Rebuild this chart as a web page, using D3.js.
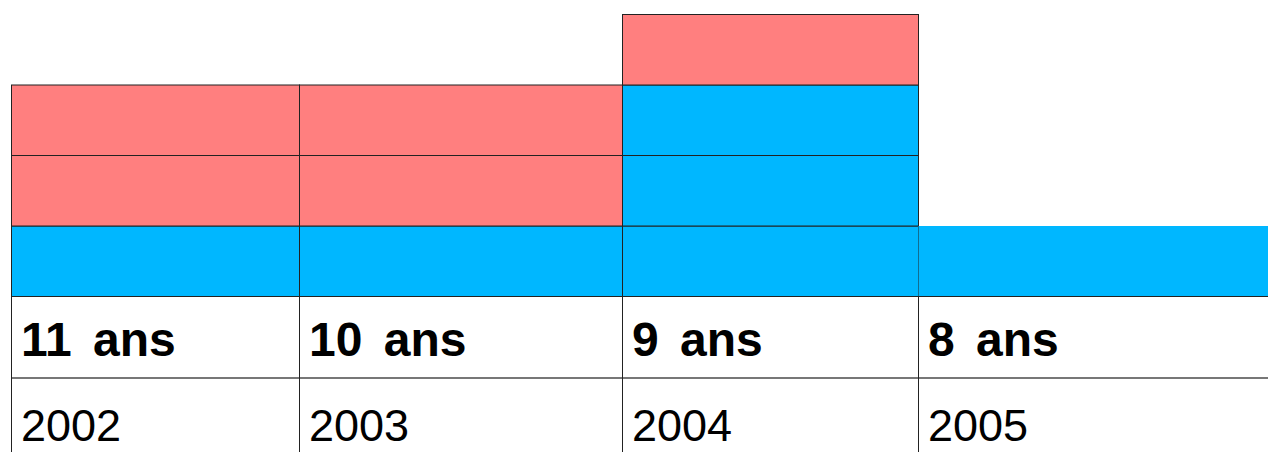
<!DOCTYPE html>
<html>
<head>
<meta charset="utf-8">
<script src="https://cdn.jsdelivr.net/npm/d3@7"></script>
<style>
  body { margin: 0; background: #fff; }
  svg { display: block; }
</style>
</head>
<body>
<svg class="chart" width="1268" height="452"></svg>
<script>
// one column per year, stacked blue then pink boxes
const years = ['2002', '2003', '2004', '2005'];
const ages = ['11 ans', '10 ans', '9 ans', '8 ans'];
const blueCounts = [1, 1, 3, 1];
const pinkCounts = [2, 2, 1, 0];

const svg = d3.select('.chart');

// columns are not the same width, so the scale maps each year to its left edge
const x = d3.scaleOrdinal().domain(years).range([11, 299, 622, 918]);
const xEnd = d3.scaleOrdinal().domain(years).range([299, 622, 918, 1270]);
const y = d3.scaleLinear().domain([0, 4]).range([296, 14]);

// build one record per box
const cells = [];
years.forEach((yr, i) => {
  for (let k = 0; k < blueCounts[i]; k++) cells.push({ year: yr, level: k, color: '#00B7FF', last: i === years.length - 1 });
  for (let k = 0; k < pinkCounts[i]; k++) cells.push({ year: yr, level: blueCounts[i] + k, color: '#FF7F7F', last: false });
});

svg.selectAll('rect.cell')
  .data(cells)
  .enter()
  .append('rect')
  .attr('class', 'cell')
  .attr('x', (d) => x(d.year) + 0.5)
  .attr('y', (d) => y(d.level + 1) + 0.5)
  .attr('width', (d) => xEnd(d.year) - x(d.year))
  .attr('height', (d) => y(d.level) - y(d.level + 1))
  .attr('fill', (d) => d.color)
  .attr('stroke', (d) => (d.last ? 'none' : '#222'))
  .attr('stroke-width', 1);

// baseline under the boxes
svg.append('line')
  .attr('x1', x(years[0]))
  .attr('x2', 1268)
  .attr('y1', y(0) + 0.5)
  .attr('y2', y(0) + 0.5)
  .attr('stroke', '#222')
  .attr('stroke-width', 1.2);

// grey rule between the age row and the year row
svg.append('line')
  .attr('x1', x(years[0]))
  .attr('x2', 1268)
  .attr('y1', 378)
  .attr('y2', 378)
  .attr('stroke', '#777')
  .attr('stroke-width', 2);

// column separators down the table part
svg.selectAll('line.sep')
  .data(years)
  .enter()
  .append('line')
  .attr('class', 'sep')
  .attr('x1', (d) => x(d) + 0.5)
  .attr('x2', (d) => x(d) + 0.5)
  .attr('y1', y(0))
  .attr('y2', 452)
  .attr('stroke', '#222')
  .attr('stroke-width', 1);

svg.selectAll('text.age')
  .data(ages)
  .enter()
  .append('text')
  .attr('class', 'age')
  .attr('x', (d, i) => x(years[i]) + 10)
  .attr('y', 356)
  .attr('font-family', 'Liberation Sans, Arial, sans-serif')
  .attr('font-weight', 'bold')
  .attr('font-size', 48)
  .attr('word-spacing', 8)
  .attr('fill', '#000')
  .text((d) => d);

svg.selectAll('text.year')
  .data(years)
  .enter()
  .append('text')
  .attr('class', 'year')
  .attr('x', (d) => x(d) + 10)
  .attr('y', 441)
  .attr('font-family', 'Liberation Sans, Arial, sans-serif')
  .attr('font-size', 45)
  .attr('fill', '#000')
  .text((d) => d);
</script>
</body>
</html>
